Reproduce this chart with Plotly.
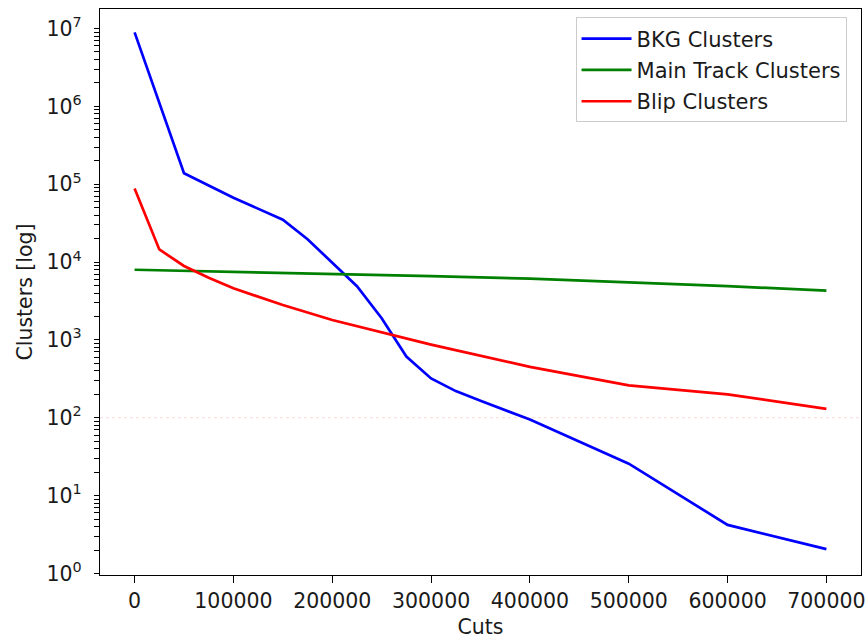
import plotly.graph_objects as go

# ---- data ----
bkg_x = [0, 50000, 100000, 150000, 175000, 225000, 250000, 275000, 300000, 325000,
         350000, 400000, 500000, 600000, 700000]
bkg_y = [8.9e6, 1.38e5, 6.7e4, 3.5e4, 1.96e4, 4.9e3, 1.9e3, 610, 320, 220,
         165, 95, 25.7, 4.2, 2.05]

main_x = [0, 100000, 200000, 300000, 400000, 500000, 600000, 700000]
main_y = [7960, 7510, 6980, 6580, 6110, 5510, 4900, 4290]

blip_x = [0, 25000, 50000, 75000, 100000, 150000, 200000, 250000, 300000,
          400000, 500000, 600000, 700000]
blip_y = [8.8e4, 1.45e4, 8.9e3, 6.3e3, 4.6e3, 2.8e3, 1.8e3, 1.25e3, 870,
          450, 260, 200, 130]

threshold = 100

x_ticks = [0, 100000, 200000, 300000, 400000, 500000, 600000, 700000]
y_exps = [0, 1, 2, 3, 4, 5, 6, 7]

FONT = "DejaVu Sans"
TXT = "#1a1a1a"
FS = 20.5
Y_RANGE = [-0.02, 7.25]

fig = go.Figure()
fig.add_trace(go.Scatter(x=bkg_x, y=bkg_y, mode="lines", name="BKG Clusters",
                         line=dict(color="blue", width=2.7), legendgroup="a"))
fig.add_trace(go.Scatter(x=main_x, y=main_y, mode="lines", name="Main Track Clusters",
                         line=dict(color="green", width=2.7), legendgroup="b"))
fig.add_trace(go.Scatter(x=blip_x, y=blip_y, mode="lines", name="Blip Clusters",
                         line=dict(color="red", width=2.7), legendgroup="c"))

fig.add_hline(y=threshold, line=dict(color="rgba(255,0,0,0.45)", width=1, dash="dot"))

# major decade ticks (labelled) plus unlabelled minor ticks 2..9 x 10^d
major_vals = [10 ** e for e in y_exps]
major_text = ["10<sup>%d</sup>" % e for e in y_exps]
minor_vals = [k * 10 ** d for d in range(0, 7) for k in range(2, 10)]
y_tickvals = major_vals + minor_vals
y_ticktext = major_text + [""] * len(minor_vals)

fig.update_layout(
    template="simple_white",
    width=867, height=639,
    margin=dict(l=99.5, r=6, t=9.3, b=63.7),
    paper_bgcolor="white", plot_bgcolor="white",
    font=dict(family=FONT, size=FS, color=TXT),
    showlegend=True,
    legend=dict(x=0.981, y=0.985, xanchor="right", yanchor="top",
                bgcolor="rgba(255,255,255,0.9)", bordercolor="#cccccc", borderwidth=1,
                font=dict(family=FONT, size=21, color=TXT),
                tracegroupgap=1, itemwidth=50),
    xaxis=dict(range=[-35000, 735000], tickmode="array", tickvals=x_ticks,
               ticktext=[str(v) for v in x_ticks], automargin=False,
               showgrid=False, zeroline=False, showline=True, mirror=True,
               linecolor="black", linewidth=1.3, ticks="outside", ticklen=7,
               tickcolor="black", tickwidth=1.4,
               title=dict(text="Cuts", standoff=9, font=dict(size=FS))),
    yaxis=dict(type="log", range=Y_RANGE, tickmode="array",
               tickvals=y_tickvals, ticktext=y_ticktext, automargin=False,
               showgrid=False, zeroline=False, showline=True, mirror=True,
               linecolor="black", linewidth=1.3, ticks="outside", ticklen=5,
               tickcolor="black", tickwidth=1.4, ticklabelstandoff=8,
               title=dict(text="Clusters [log]", standoff=8, font=dict(size=FS))),
)

# remove the default 8px page margin so the figure fills the 867x639 window
fig.write_html("out.html",
               config={"displayModeBar": False},
               post_script="document.body.style.margin='0';"
                           "document.body.style.overflow='hidden';")
